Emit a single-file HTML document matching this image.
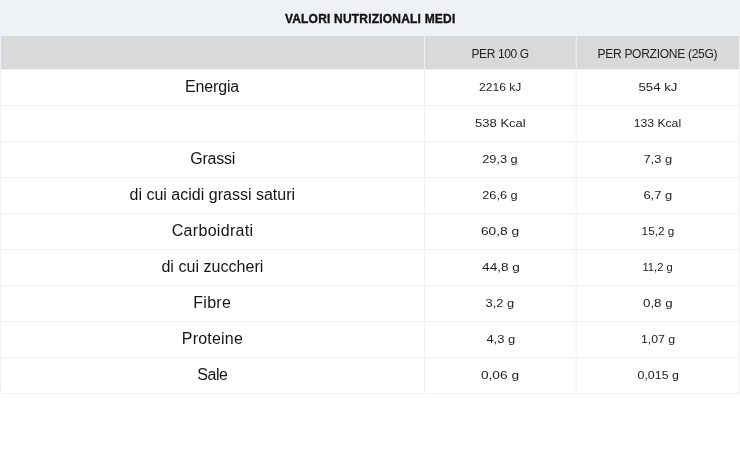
<!DOCTYPE html>
<html lang="it">
<head>
<meta charset="utf-8">
<title>Valori nutrizionali medi</title>
<style>
html,body{margin:0;padding:0;background:#fff;}
body{width:740px;height:461px;overflow:hidden;font-family:"Liberation Sans",sans-serif;color:#222;}
table{border-collapse:collapse;width:740px;table-layout:fixed;transform:translateZ(0);will-change:transform;}
caption{height:35px;line-height:35px;background:#eef2f5;font-weight:bold;font-size:12px;color:#111;text-align:center;overflow:hidden;}
caption span{position:relative;top:1.5px;-webkit-text-stroke:0.35px #111;}
th,td{border:1px solid #eef1f5;text-align:center;padding:0;vertical-align:middle;}
thead th{background:#d9d9d9;height:33px;font-weight:normal;font-size:12px;color:#222;}
thead th span{position:relative;top:1px;}
tbody td{height:35px;font-size:11.5px;color:#1c1c1c;}
tbody td span{position:relative;top:-1px;display:inline-block;}
tbody td.l{font-size:16px;color:#151515;}
tbody td.l span{top:-1px;}
th.m,td.m{border-right-color:#f9fafc;}th.r,td.r{border-left-color:#f9fafc;}
thead th.m{border-right-color:#e0e1e3;}thead th.r{border-left-color:#e0e1e3;}
.wrap{position:relative;width:740px;}
.vl{position:absolute;left:576px;top:36px;width:1px;height:357px;background:rgba(238,241,245,.65);}
col.c1{width:424px}col.c2{width:151px}col.c3{width:164px}
</style>
</head>
<body>
<div class="wrap">
<table>
<caption><span style="letter-spacing:0.20px;margin-right:-0.20px;left:0.1px;">VALORI NUTRIZIONALI MEDI</span></caption>
<colgroup><col class="c1"><col class="c2"><col class="c3"></colgroup>
<thead><tr><th></th><th class="m"><span style="letter-spacing:-0.36px;margin-right:0.36px;left:0.3px;">PER 100 G</span></th><th class="r"><span style="letter-spacing:-0.27px;margin-right:0.27px;">PER PORZIONE (25G)</span></th></tr></thead>
<tbody>
<tr><td class="l"><span style="letter-spacing:-0.15px;margin-right:0.15px;left:-0.4px;">Energia</span></td><td class="m"><span style="transform:scaleX(1.049);left:0.10px">2216 kJ</span></td><td class="r"><span style="transform:scaleX(1.151);left:0.40px">554 kJ</span></td></tr>
<tr><td class="l"></td><td class="m"><span style="transform:scaleX(1.131);left:0.00px">538 Kcal</span></td><td class="r"><span style="transform:scaleX(1.060);left:0.15px">133 Kcal</span></td></tr>
<tr><td class="l"><span style="letter-spacing:-0.24px;margin-right:0.24px;left:0.3px;">Grassi</span></td><td class="m"><span style="transform:scaleX(1.108);left:-0.20px">29,3 g</span></td><td class="r"><span style="transform:scaleX(1.122);left:-0.05px">7,3 g</span></td></tr>
<tr><td class="l"><span style="letter-spacing:0.01px;margin-right:-0.01px;left:-0.2px;">di cui acidi grassi saturi</span></td><td class="m"><span style="transform:scaleX(1.108);left:-0.20px">26,6 g</span></td><td class="r"><span style="transform:scaleX(1.126);left:-0.15px">6,7 g</span></td></tr>
<tr><td class="l"><span style="letter-spacing:0.31px;margin-right:-0.31px;left:-0.1px;">Carboidrati</span></td><td class="m"><span style="transform:scaleX(1.194);left:-0.20px">60,8 g</span></td><td class="r"><span style="transform:scaleX(1.024);left:0.10px">15,2 g</span></td></tr>
<tr><td class="l"><span style="letter-spacing:0.04px;margin-right:-0.04px;left:-0.1px;">di cui zuccheri</span></td><td class="m"><span style="transform:scaleX(1.182);left:1.00px">44,8 g</span></td><td class="r"><span style="transform:scaleX(0.969);left:0.00px">11,2 g</span></td></tr>
<tr><td class="l"><span style="letter-spacing:0.27px;margin-right:-0.27px;left:-0.4px;">Fibre</span></td><td class="m"><span style="transform:scaleX(1.118);left:0.00px">3,2 g</span></td><td class="r"><span style="transform:scaleX(1.159);left:0.20px">0,8 g</span></td></tr>
<tr><td class="l"><span style="letter-spacing:0.20px;margin-right:-0.20px;left:-0.2px;">Proteine</span></td><td class="m"><span style="transform:scaleX(1.121);left:0.40px">4,3 g</span></td><td class="r"><span style="transform:scaleX(1.070);left:0.10px">1,07 g</span></td></tr>
<tr><td class="l"><span style="letter-spacing:-0.52px;margin-right:0.52px;left:0.1px;">Sale</span></td><td class="m"><span style="transform:scaleX(1.190);left:0.30px">0,06 g</span></td><td class="r"><span style="transform:scaleX(1.076);left:0.60px">0,015 g</span></td></tr>
</tbody>
</table>
<div class="vl"></div>
</div>
</body>
</html>
